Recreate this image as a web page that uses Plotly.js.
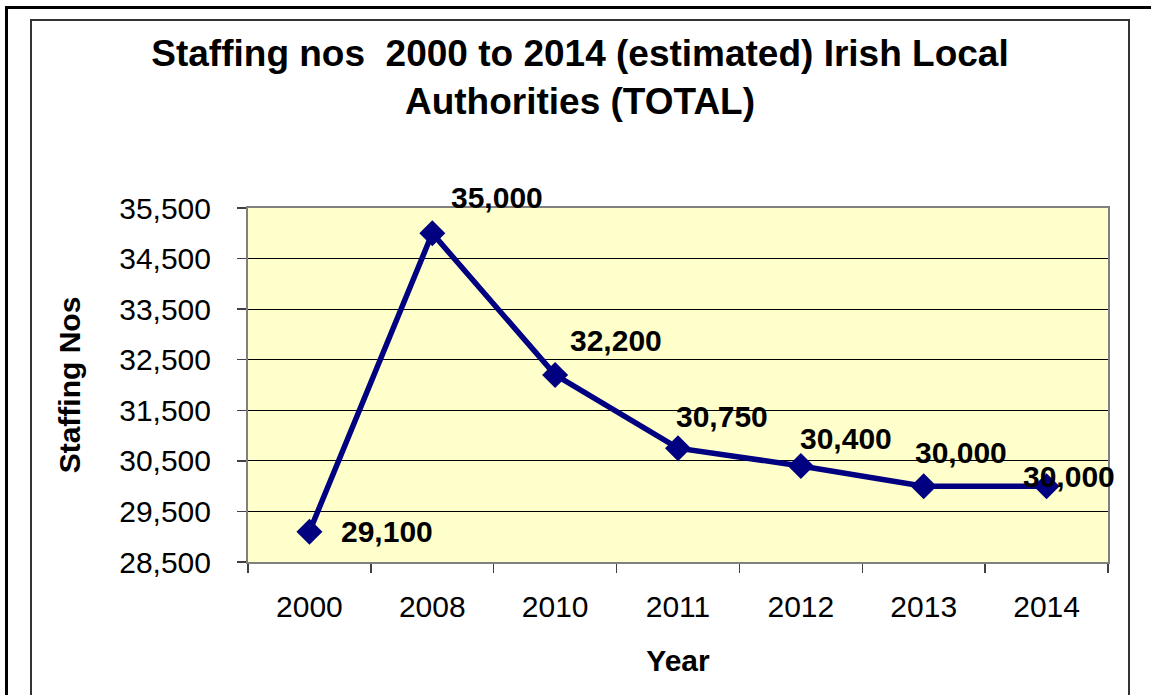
<!DOCTYPE html>
<html>
<head>
<meta charset="utf-8">
<script src="https://cdn.plot.ly/plotly-3.0.1.min.js"></script>
<style>
  body { margin: 0; overflow: hidden; background: #fff; }
  #chart { position: absolute; left: 0; top: 0; width: 1151px; height: 695px; }
  .frame { position: absolute; pointer-events: none; box-sizing: border-box; }
  #outer { left: 5px; top: 6px; width: 1170px; height: 720px; border: 3px solid #000; }
  #inner { left: 30px; top: 19px; width: 1100px; height: 720px; border: 2px solid #333; }
</style>
</head>
<body>
<div id="chart"></div>
<div class="frame" id="outer"></div>
<div class="frame" id="inner"></div>
<script>
// staffing numbers
const years = ['2000', '2008', '2010', '2011', '2012', '2013', '2014'];
const staff = [29100, 35000, 32200, 30750, 30400, 30000, 30000];
const yTicks = [28500, 29500, 30500, 31500, 32500, 33500, 34500, 35500];

// where each data label sits relative to its point (px)
const labelDx = [30, 17, 13, -4, -3, -11, -26];
const labelDy = [0, 36, 34, 32, 27, 34, 10];

const FONT = 'Arial, "Liberation Sans", sans-serif';

const trace = {
  x: years,
  y: staff,
  type: 'scatter',
  mode: 'lines+markers',
  line: { color: '#000080', width: 5.5 },
  marker: { symbol: 'diamond', size: 20, color: '#000080' },
  hoverinfo: 'x+y'
};

// category axis: annotations take the category index
const labels = years.map((yr, i) => ({
  x: i,
  y: staff[i],
  text: staff[i].toLocaleString('en-US'),
  showarrow: false,
  xanchor: 'left',
  yanchor: 'middle',
  xshift: labelDx[i],
  yshift: labelDy[i],
  font: { family: FONT, size: 30, color: '#000', weight: 'bold' }
}));

const layout = {
  width: 1151,
  height: 695,
  paper_bgcolor: '#ffffff',
  plot_bgcolor: '#ffffcc',
  margin: { l: 248, r: 43, t: 208, b: 133 },
  showlegend: false,
  font: { family: FONT, color: '#000' },
  title: {
    text: 'Staffing nos  2000 to 2014 (estimated) Irish Local<br>Authorities (TOTAL)',
    font: { family: FONT, size: 37, weight: 'bold', color: '#000' },
    x: 580 / 1151,
    xref: 'container',
    xanchor: 'center',
    y: 1 - 66 / 695,
    yref: 'container',
    yanchor: 'top'
  },
  xaxis: {
    type: 'category',
    range: [-0.5, years.length - 0.5],
    tickson: 'boundaries',
    ticks: 'outside',
    ticklen: 9,
    tickwidth: 1.5,
    tickcolor: '#404040',
    showline: true,
    linecolor: '#808080',
    linewidth: 2,
    mirror: true,
    showgrid: false,
    tickangle: 0,
    tickfont: { family: FONT, size: 30, color: '#000' },
    ticklabelstandoff: 17,
    title: { text: 'Year', font: { family: FONT, size: 30, weight: 'bold' }, standoff: 28 }
  },
  yaxis: {
    range: [28500, 35500],
    tickvals: yTicks,
    tickformat: ',d',
    ticks: 'outside',
    ticklen: 9,
    tickwidth: 1.5,
    tickcolor: '#404040',
    showline: true,
    linecolor: '#808080',
    linewidth: 2,
    mirror: true,
    showgrid: true,
    gridcolor: '#000000',
    gridwidth: 1,
    zeroline: false,
    tickfont: { family: FONT, size: 30, color: '#000' },
    ticklabelstandoff: 20,
    title: { text: 'Staffing Nos', font: { family: FONT, size: 30, weight: 'bold' }, standoff: 30 }
  },
  annotations: labels
};

Plotly.newPlot('chart', [trace], layout, { displayModeBar: false, staticPlot: true });
</script>
</body>
</html>
